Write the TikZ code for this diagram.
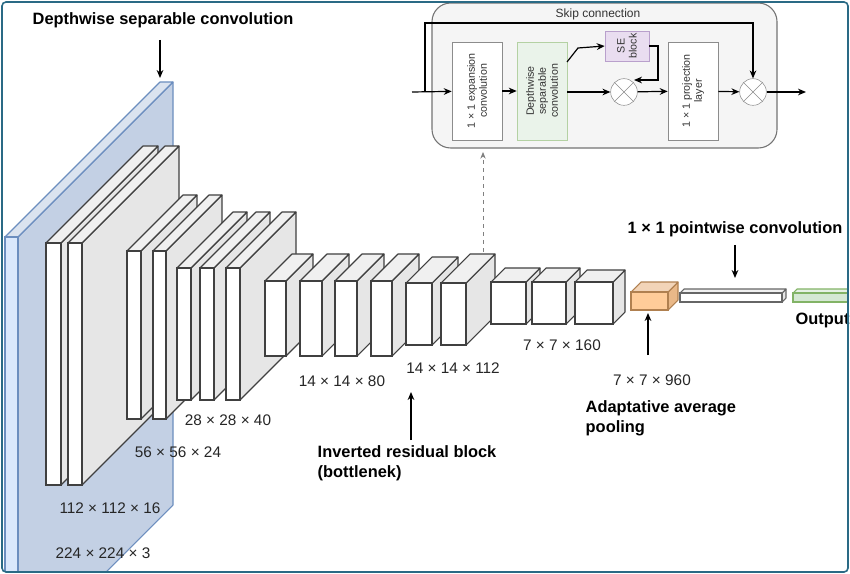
\documentclass[tikz,border=0pt]{standalone}
\usepackage{fontspec}
\setmainfont{Liberation Sans}
\usetikzlibrary{arrows.meta}
\definecolor{bfr}{HTML}{DAE8FC}\definecolor{bsd}{HTML}{C3D0E4}\definecolor{bst}{HTML}{6C8EBF}
\definecolor{gsd}{HTML}{E6E6E6}\definecolor{gtp}{HTML}{F0F0F0}
\definecolor{ofr}{HTML}{FFCC99}\definecolor{osd}{HTML}{E9B888}\definecolor{ost}{HTML}{B08050}
\definecolor{gfr}{HTML}{D5E8D4}\definecolor{gst}{HTML}{82B366}
\definecolor{pfr}{HTML}{E9DDF0}\definecolor{pst}{HTML}{B9A0CC}
\definecolor{frame}{HTML}{2A6A85}
\newcommand\mycub[8]{% x1 x2 yt yb d front side stroke
 \filldraw[draw=#8,fill=#7,line width=0.8pt,line join=round] (#2,#3)--(#2+#5,#3-#5)--(#2+#5,#4-#5)--(#2,#4)--cycle;
 \filldraw[draw=#8,fill=#7!60!white,line width=0.8pt,line join=round] (#1,#3)--(#1+#5,#3-#5)--(#2+#5,#3-#5)--(#2,#3)--cycle;
 \filldraw[draw=#8,fill=#6,line width=0.8pt] (#1,#3) rectangle (#2,#4);}
\tikzset{lbl/.style={font=\fontsize{11.5}{13}\selectfont,text=black!85},
 ttl/.style={font=\bfseries\fontsize{12.3}{15}\selectfont,align=left},
 arr/.style={-{Stealth[length=6pt,width=5pt]},line width=0.9pt},
 sm/.style={font=\fontsize{8}{9}\selectfont,align=center,text=black!80},
 box/.style={draw=black!45,fill=white,minimum width=37.5pt,minimum height=73.5pt,inner sep=0pt},
 op/.style={circle,draw=black!45,fill=white,minimum size=20pt,inner sep=0pt}}
\begin{document}
\begin{tikzpicture}[x=0.75pt,y=-0.75pt]
\useasboundingbox (0,0) rectangle (850,574);
\fill[white] (0,0) rectangle (850,574);
\begin{scope}
\clip (3,3) rectangle (847,571);
\mycub{5}{18}{237}{660}{155}{bfr}{bsd}{bst}
\end{scope}
\mycub{46}{61}{243}{485}{97}{white}{gsd}{black!75}
\mycub{68}{82}{243}{485}{97}{white}{gsd}{black!75}
\mycub{127}{141}{251}{419}{56}{white}{gsd}{black!75}
\mycub{153}{166}{251}{419}{56}{white}{gsd}{black!75}
\mycub{177}{191}{268}{400}{56}{white}{gsd}{black!75}
\mycub{200}{214}{268}{400}{56}{white}{gsd}{black!75}
\mycub{226}{240}{268}{400}{56}{white}{gsd}{black!75}
\mycub{265}{286}{281}{356}{27}{white}{gsd}{black!75}
\mycub{300}{322}{281}{356}{27}{white}{gsd}{black!75}
\mycub{335}{357}{281}{356}{27}{white}{gsd}{black!75}
\mycub{371}{392}{281}{356}{27}{white}{gsd}{black!75}
\mycub{406}{432}{283}{345}{26}{white}{gsd}{black!75}
\mycub{441}{466}{283}{345}{29}{white}{gsd}{black!75}
\mycub{491}{526}{282}{324}{14}{white}{gsd}{black!75}
\mycub{532}{566}{282}{324}{14}{white}{gsd}{black!75}
\mycub{575}{613}{282}{324}{12}{white}{gsd}{black!75}
\mycub{631}{668}{292}{310}{10}{ofr}{osd}{ost}
\mycub{680}{782}{293}{302}{4}{white}{gsd}{black!60}
\begin{scope}
\clip (0,0) rectangle (847,574);
\mycub{793}{880}{293}{302}{4}{gfr}{gfr}{gst}
\end{scope}
% labels
\node[ttl,anchor=west] (t1) at (28,20) {Depthwise separable convolution};
\coordinate (a1) at (160,78);
\draw[arr] (160,40) -- (a1);
\node[lbl] (l1) at (103,553) {224 × 224 × 3};
\node[lbl] (l2) at (110,508) {112 × 112 × 16};
\node[lbl] (l3) at (178,452) {56 × 56 × 24};
\node[lbl] (l4) at (228,420) {28 × 28 × 40};
\node[lbl] (l5) at (342,381) {14 × 14 × 80};
\node[lbl] (l6) at (453,368) {14 × 14 × 112};
\node[lbl] (l7) at (562,345) {7 × 7 × 160};
\node[lbl] (l8) at (652,380) {7 × 7 × 960};
\node[ttl,anchor=west] (t2) at (313,463) {Inverted residual block\\(bottlenek)};
\draw[arr] (411,440) -- (411,392);
\node[ttl,anchor=west] (t3) at (581,418) {Adaptative average\\pooling};
\draw[arr] (648,355) -- (648,313);
\node[ttl,anchor=west] (t4) at (623,229) {1 × 1 pointwise convolution};
\draw[arr] (735,245) -- (735,278);
\node[ttl,anchor=west] (t5) at (791,320) {Output};
% inset
\draw[dashed,black!50,-{Stealth[length=5pt,width=4pt]},line width=0.6pt] (483,252) -- (483,152);
\draw[black!55,fill=black!4,rounded corners=14pt,line width=0.8pt] (432,3) rectangle (777,148);
\node[sm,font=\fontsize{9}{10}\selectfont] (sk) at (598,14) {Skip connection};
\node[box] (ex) at (477,91) {};
\node[sm,rotate=90] at (ex) {1 × 1 expansion\\convolution};
\node[box,draw=gst!60,fill=gfr!50] (dw) at (542,91) {};
\node[sm,rotate=90] at (dw) {Depthwise\\separable\\convolution};
\node[draw=pst,fill=pfr,minimum width=33pt,minimum height=22.5pt,inner sep=0pt] (se) at (627,46) {};
\node[sm,rotate=90] at (se) {SE\\block};
\node[op] (m1) at (624,92) {};
\draw[black!45] (m1.north east)--(m1.south west) (m1.north west)--(m1.south east);
\node[box] (pr) at (693,91) {};
\node[sm,rotate=90] at (pr) {1 × 1 projection\\layer};
\node[op] (m2) at (753,92) {};
\draw[black!45] (m2.north east)--(m2.south west) (m2.north west)--(m2.south east);
\coordinate (in) at (412,92);
\coordinate (out) at (806,92);
\draw[arr] (in) -- (ex);
\draw[line width=0.9pt,-{Stealth[length=6pt,width=5pt]}] (425,92) -- (425,23) -- (753,23) -- (m2.north);
\draw[arr] (ex) -- (dw);
\draw[arr] (dw.east |- m1) -- (m1);
\draw[arr] (567,62) -- (578,48) -- (se.west);
\draw[arr] (se.east) -- (658,46) -- (658,80) -- (634,80);
\draw[arr] (m1) -- (pr);
\draw[arr] (pr) -- (m2);
\draw[arr] (m2) -- (out);
\draw[frame,line width=1.2pt,rounded corners=3pt] (2,2) rectangle (848,572);
\end{tikzpicture}
\end{document}
